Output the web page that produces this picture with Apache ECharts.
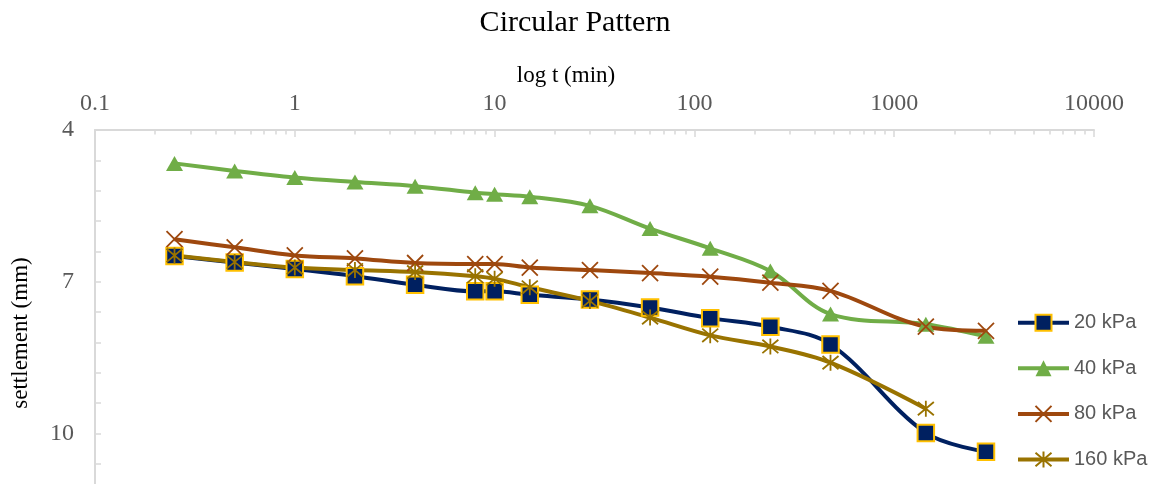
<!DOCTYPE html>
<html>
<head>
<meta charset="utf-8">
<script src="https://cdn.jsdelivr.net/npm/echarts@6/dist/echarts.min.js"></script>
<style>html,body{margin:0;padding:0;background:#fff;}#c{width:1158px;height:484px;}</style>
</head>
<body>
<div id="c"></div>
<script>
// time (min)
const times = [0.25, 0.5, 1, 2, 4, 8, 10, 15, 30, 60, 120, 240, 480, 1440, 2880];
// settlement (mm)
const s20  = [6.49, 6.62, 6.75, 6.89, 7.06, 7.19, 7.19, 7.26, 7.35, 7.51, 7.72, 7.89, 8.24, 9.99, 10.36];
const s40  = [4.66, 4.81, 4.94, 5.03, 5.11, 5.24, 5.27, 5.32, 5.50, 5.95, 6.34, 6.79, 7.64, 7.84, 8.08];
const s80  = [6.16, 6.32, 6.48, 6.54, 6.63, 6.65, 6.65, 6.72, 6.77, 6.83, 6.90, 7.02, 7.18, 7.89, 7.97];
const s160 = [6.48, 6.61, 6.72, 6.77, 6.81, 6.89, 6.94, 7.11, 7.38, 7.71, 8.06, 8.28, 8.60, 9.51];
const seriesNames = ['20 kPa', '40 kPa', '80 kPa', '160 kPa'];
// tick labels
const xLabels = [0.1, 1, 10, 100, 1000, 10000];
const yLabels = [4, 7, 10];
const yTicks = [4, 4.6, 5.2, 5.8, 6.4, 7, 7.6, 8.2, 8.8, 9.4, 10, 10.6];
const xMinorTicks = [0.2,0.3,0.4,0.5,0.6,0.7,0.8,0.9, 2,3,4,5,6,7,8,9, 20,30,40,50,60,70,80,90,
  200,300,400,500,600,700,800,900, 2000,3000,4000,5000,6000,7000,8000,9000];

function pairs(vals) { return vals.map((v, i) => [times[i], v]); }

const axisGray = '#d9d9d9';
const labelGray = '#595959';
const serif = 'Liberation Serif';

const X_PATH = 'path://M0,0L10,10M10,0L0,10';
const STAR_PATH = 'path://M0,0L10,10M10,0L0,10M5,-1L5,11';

const chart = echarts.init(document.getElementById('c'), null, { renderer: 'canvas' });
chart.setOption({
  animation: false,
  backgroundColor: '#ffffff',
  title: {
    text: 'Circular Pattern',
    left: 570, top: 3, textAlign: 'center',
    textStyle: { fontFamily: serif, fontSize: 30, fontWeight: 'normal', color: '#000' }
  },
  grid: { left: 95, right: 64, top: 130, bottom: 0, containLabel: false },
  legend: {
    orient: 'vertical', left: 1016, top: 312.7, padding: 0,
    itemWidth: 51, itemHeight: 20, itemGap: 25.6,
    lineStyle: { width: 4 },
    textStyle: { fontFamily: 'Liberation Sans', fontSize: 20, color: labelGray, lineHeight: 20 },
    data: seriesNames
  },
  xAxis: [{
    type: 'log', logBase: 10, position: 'top', min: 0.1, max: 10000,
    name: 'log t (min)', nameLocation: 'middle', nameGap: 40,
    nameTextStyle: { fontFamily: serif, fontSize: 23, color: '#000', padding: [0, 57, 0, 0] },
    axisLine: { show: true, lineStyle: { color: axisGray, width: 2 } },
    axisTick: { show: true, inside: true, length: 7, customValues: xLabels, lineStyle: { color: axisGray, width: 1.5 } },
    axisLabel: { customValues: xLabels, margin: 14, fontFamily: serif, fontSize: 24, color: labelGray,
      formatter: v => String(v) },
    splitLine: { show: false }
  }, {
    type: 'log', logBase: 10, position: 'top', min: 0.1, max: 10000,
    axisLine: { show: false },
    axisTick: { show: true, inside: true, length: 4.5, customValues: xMinorTicks, lineStyle: { color: axisGray, width: 1.5 } },
    axisLabel: { show: false },
    splitLine: { show: false }
  }],
  yAxis: {
    type: 'value', inverse: true, min: 4, max: 11,
    name: 'settlement (mm)', nameLocation: 'middle', nameGap: 63, nameRotate: 90,
    nameTextStyle: { fontFamily: serif, fontSize: 23, color: '#000', padding: [0, 52, 0, 0] },
    axisLine: { show: true, lineStyle: { color: axisGray, width: 2 } },
    axisTick: { show: true, inside: true, length: 6, customValues: yTicks, lineStyle: { color: axisGray, width: 1.5 } },
    axisLabel: { customValues: yLabels, margin: 21, fontFamily: serif, fontSize: 24, color: labelGray },
    splitLine: { show: false }
  },
  series: [
    {
      name: seriesNames[0], type: 'line', smooth: 0.35, data: pairs(s20),
      symbol: 'rect', symbolSize: 16.5,
      lineStyle: { color: '#002060', width: 4 },
      itemStyle: { color: '#002060', borderColor: '#FFC000', borderWidth: 2 }
    },
    {
      name: seriesNames[1], type: 'line', smooth: 0.35, data: pairs(s40),
      symbol: 'triangle', symbolSize: [17, 15],
      lineStyle: { color: '#70AD47', width: 4 },
      itemStyle: { color: '#70AD47', borderColor: '#70AD47', borderWidth: 0 }
    },
    {
      name: seriesNames[2], type: 'line', smooth: 0.35, data: pairs(s80),
      symbol: X_PATH, symbolSize: 16,
      lineStyle: { color: '#9E480E', width: 4 },
      itemStyle: { color: '#9E480E', borderColor: '#9E480E', borderWidth: 1.8 }
    },
    {
      name: seriesNames[3], type: 'line', smooth: 0.35, data: pairs(s160),
      symbol: STAR_PATH, symbolSize: 16,
      lineStyle: { color: '#997300', width: 4 },
      itemStyle: { color: '#997300', borderColor: '#997300', borderWidth: 1.8 }
    }
  ]
});
</script>
</body>
</html>
